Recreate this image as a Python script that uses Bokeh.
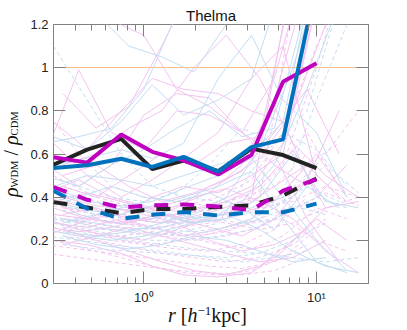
from bokeh.plotting import figure
from bokeh.models import FixedTicker, LogAxis, LinearAxis, Div
from bokeh.layouts import row, column
from bokeh.embed import file_html
from bokeh.resources import INLINE

# ---------------- data ----------------
# radial bins of the median profiles (h^-1 kpc)
r_med = [0.3, 0.47, 0.74, 1.12, 1.7, 2.7, 4.2, 6.4, 10]
black_solid = [0.55, 0.62, 0.67, 0.53, 0.57, 0.52, 0.625, 0.595, 0.535]
magenta_solid = [0.585, 0.56, 0.69, 0.61, 0.57, 0.505, 0.595, 0.935, 1.02]
blue_solid = [0.535, 0.548, 0.578, 0.54, 0.587, 0.518, 0.632, 0.668, 1.39]
black_dashed = [0.377, 0.352, 0.326, 0.345, 0.345, 0.355, 0.362, 0.408, 0.486]
magenta_dashed = [0.447, 0.388, 0.352, 0.362, 0.366, 0.357, 0.34, 0.43, 0.482]
blue_dashed = [0.43, 0.347, 0.30, 0.318, 0.331, 0.315, 0.33, 0.33, 0.37]

# radial bins of the individual haloes
grid_G = [0.3, 0.47, 0.74, 1.12, 1.7, 2.7, 4.2, 6.4, 10, 15]
grid_H = [0.27, 0.42, 0.65, 1.0, 1.55, 2.4, 3.7, 5.7, 8.8, 13.5]
grid_K = [0.34, 0.53, 0.82, 1.27, 1.95, 3.0, 4.7, 7.3, 11.3, 17.5]

pink_solid = [
    ("K", [0.88, 0.72, 0.82, 1.10, 1.40, 1.60, 1.30, 1.50]),
    ("H", [0.60, 0.99, 0.70, 0.62, 0.80, 0.78, 0.70, 0.95, 1.50]),
    ("G", [0.75, 0.62, 0.80, 0.95, 0.90, 0.88, 0.80, 0.75, 0.40, 0.55]),
    ("H", [0.55, 0.45, 0.55, 0.78, 0.88, 0.86, 0.70, 0.60, 0.30, 0.10]),
    ("K", [0.45, 0.40, 0.50, 0.60, 0.55, 0.65, 0.68, 1.40]),
    ("G", [0.35, 0.30, 0.32, 0.40, 0.45, 0.42, 0.50, 0.60, 1.30]),
    ("H", [0.30, 0.25, 0.22, 0.20, 0.25, 0.30, 0.35, 0.45, 0.55, 0.40]),
    ("K", [0.25, 0.20, 0.15, 0.10, 0.06, 0.04, 0.08, 0.20, 0.35]),
    ("G", [0.20, 0.18, 0.14, 0.08, 0.04, 0.03, 0.05, 0.15, 0.30, 0.20]),
    ("H", [0.40, 0.32, 0.28, 0.30, 0.35, 0.45, 0.52, 0.70, 0.90, 0.60]),
    ("K", [0.50, 0.55, 0.45, 0.38, 0.42, 0.48, 0.58, 0.80, 1.20, 1.50]),
    ("G", [0.28, 0.26, 0.30, 0.26, 0.22, 0.25, 0.30, 0.42, 0.60, 0.40]),
    ("H", [0.22, 0.28, 0.35, 0.32, 0.28, 0.20, 0.15, 0.18, 0.25]),
    ("K", [0.32, 0.35, 0.30, 0.28, 0.34, 0.38, 0.45, 0.62, 0.35, 0.38]),
    ("G", [0.65, 0.50, 0.40, 0.48, 0.58, 0.70, 0.95, 1.10, 0.50]),
    ("H", [0.42, 0.48, 0.40, 0.36, 0.30, 0.26, 0.22, 0.30, 0.48, 0.80]),
    ("K", [0.18, 0.22, 0.26, 0.22, 0.18, 0.14, 0.10, 0.12, 0.20]),
    ("G", [0.38, 0.42, 0.38, 0.34, 0.30, 0.34, 0.40, 1.20, 1.60]),
    ("H", [1.30, 1.25, 1.22, 1.15, 0.90, 0.82, 0.70, 0.55, 0.45]),
    ("K", [0.55, 0.60, 0.72, 0.80, 1.00, 1.15, 0.95, 0.65, 0.50, 0.40]),
    ("G", [0.32, 0.30, 0.28, 0.30, 0.33, 0.38, 0.45, 0.65, 1.30]),
    ("H", [0.26, 0.24, 0.26, 0.30, 0.36, 0.42, 0.55, 0.85, 1.40]),
    ("K", [0.40, 0.36, 0.34, 0.36, 0.40, 0.44, 0.38, 0.30, 0.15, 0.05]),
]
blue_solid_faint = [
    ("H", [0.65, 0.68, 0.72, 0.90, 1.25]),
    ("G", [0.68, 0.62, 0.75, 0.92, 0.78, 0.85, 0.95, 1.40]),
    ("K", [1.30, 1.25, 1.10, 1.05, 0.98, 1.20, 1.50]),
    ("H", [0.50, 0.45, 0.55, 0.62, 0.72, 0.80, 0.68, 0.72, 1.30]),
    ("G", [0.38, 0.34, 0.32, 0.36, 0.40, 0.45, 0.52, 0.30, 0.10, 0.05]),
    ("K", [0.30, 0.28, 0.25, 0.26, 0.30, 0.32, 0.25, 0.15, 0.08, 0.05]),
    ("H", [0.25, 0.22, 0.20, 0.22, 0.26, 0.30, 0.38, 0.55, 0.90, 1.30]),
    ("G", [0.45, 0.50, 0.48, 0.45, 0.50, 0.55, 0.60, 0.75, 1.50]),
    ("K", [0.22, 0.18, 0.16, 0.18, 0.22, 0.20, 0.15, 0.10, 0.12]),
    ("H", [0.35, 0.40, 0.45, 0.40, 0.38, 0.42, 0.35, 0.25, 0.45, 0.35]),
    ("G", [0.55, 0.58, 0.62, 0.58, 0.65, 0.95, 1.15, 0.85, 0.70, 0.40]),
    ("K", [0.28, 0.32, 0.36, 0.32, 0.28, 0.30, 0.40, 0.60, 0.38, 0.35]),
    ("G", [0.42, 0.38, 0.36, 0.38, 0.44, 0.50, 0.58, 0.40, 0.20, 0.06]),
    ("K", [0.24, 0.22, 0.24, 0.28, 0.32, 0.40, 0.62, 1.00, 1.50]),
]
pink_dashed = [
    ("G", [0.30, 0.28, 0.26, 0.25, 0.28, 0.30, 0.34, 0.40, 0.50, 0.38]),
    ("H", [0.25, 0.22, 0.20, 0.18, 0.16, 0.15, 0.18, 0.25, 0.40]),
    ("K", [0.35, 0.32, 0.28, 0.25, 0.22, 0.24, 0.30, 0.42, 0.60, 0.80]),
    ("G", [0.20, 0.16, 0.12, 0.08, 0.05, 0.04, 0.06, 0.12, 0.25]),
    ("H", [0.40, 0.36, 0.33, 0.30, 0.28, 0.30, 0.36, 0.50, 0.70, 0.45]),
    ("K", [0.45, 0.40, 0.36, 0.34, 0.33, 0.35, 0.40, 1.30]),
    ("G", [0.28, 0.24, 0.20, 0.18, 0.20, 0.24, 0.28, 0.30, 0.20, 0.15]),
    ("H", [0.33, 0.30, 0.28, 0.27, 0.26, 0.28, 0.32, 0.38, 0.55, 0.65]),
    ("K", [0.22, 0.20, 0.17, 0.14, 0.12, 0.10, 0.12, 0.18, 0.30]),
    ("G", [0.50, 0.42, 0.38, 0.35, 0.36, 0.40, 0.48, 0.70, 1.10, 1.40]),
    ("H", [0.18, 0.16, 0.14, 0.12, 0.10, 0.08, 0.07, 0.10, 0.18]),
    ("K", [0.38, 0.34, 0.30, 0.28, 0.30, 0.32, 0.35, 0.38, 0.45, 0.40]),
    ("G", [0.26, 0.22, 0.22, 0.24, 0.22, 0.18, 0.16, 0.22, 0.35, 0.30]),
    ("H", [0.80, 0.60, 0.45, 0.40, 0.38, 0.36, 0.40, 0.45, 0.60]),
    ("K", [0.30, 0.26, 0.24, 0.22, 0.20, 0.22, 0.26, 0.34, 0.42, 0.36]),
    ("G", [0.36, 0.34, 0.32, 0.30, 0.32, 0.36, 0.42, 0.55, 1.00, 1.50]),
    ("H", [0.14, 0.12, 0.10, 0.08, 0.06, 0.05, 0.04, 0.06, 0.12]),
    ("K", [0.42, 0.38, 0.35, 0.32, 0.30, 0.28, 0.25, 0.28, 0.35, 0.40]),
]
blue_dashed_faint = [
    ("G", [1.10, 0.85, 0.60, 0.45, 0.40, 0.38, 0.35, 0.40, 0.55]),
    ("H", [0.32, 0.28, 0.25, 0.24, 0.22, 0.24, 0.28, 0.35, 0.45, 0.38]),
    ("K", [0.26, 0.22, 0.20, 0.18, 0.16, 0.15, 0.14, 0.12, 0.10, 0.12]),
    ("G", [0.40, 0.36, 0.32, 0.30, 0.30, 0.32, 0.35, 0.42, 0.85, 1.20]),
    ("H", [0.22, 0.20, 0.18, 0.16, 0.14, 0.12, 0.10, 0.12, 0.15]),
    ("K", [0.36, 0.32, 0.30, 0.28, 0.28, 0.30, 0.34, 0.40, 0.55, 0.42]),
    ("G", [0.30, 0.26, 0.24, 0.22, 0.24, 0.28, 0.52, 0.70, 0.62, 0.45]),
    ("H", [0.45, 0.40, 0.35, 0.33, 0.32, 0.30, 0.28, 0.30, 0.38]),
    ("K", [0.18, 0.16, 0.15, 0.14, 0.13, 0.12, 0.14, 0.20, 0.28]),
    ("G", [0.28, 0.25, 0.22, 0.20, 0.20, 0.22, 0.25, 0.32, 0.40, 0.35]),
    ("H", [0.50, 0.45, 0.40, 0.38, 0.42, 0.55, 0.72, 0.65, 0.80, 1.30]),
    ("K", [0.34, 0.30, 0.27, 0.25, 0.24, 0.26, 0.30, 0.36, 0.32]),
]

y_ticks = [0, 0.2, 0.4, 0.6, 0.8, 1.0, 1.2]
y_tick_labels = ["0", "0.2", "0.4", "0.6", "0.8", "1", "1.2"]
x_major = [1, 10]
x_major_labels = ["10\u2070", "10\u00b9"]
x_minor = [0.4, 0.5, 0.6, 0.7, 0.8, 0.9, 2, 3, 4, 5, 6, 7, 8, 9, 20]
ref_level = [1.0]
title_text = "Thelma"

# ---------------- figure ----------------
GRIDS = {"G": grid_G, "H": grid_H, "K": grid_K}
PINK = "#F2C3EF"
LBLUE = "#C3DDF1"
MAGENTA = "#BF00BF"
BLUE = "#0072BD"
BLACK = "#222222"
FRAME = "#808080"

p = figure(width=385, height=307, x_axis_type="log", x_range=(0.3, 20),
           y_range=(0, 1.2), output_backend="svg", toolbar_location=None,
           min_border_left=31, min_border_right=39, min_border_top=24,
           min_border_bottom=24, title=title_text, margin=0)
p.title.align = "center"
p.title.text_font = "Liberation Sans"
p.title.text_font_size = "15px"
p.title.text_font_style = "normal"
p.title.text_color = "#111111"
p.title.standoff = 2
p.grid.visible = False
p.outline_line_color = FRAME
p.outline_line_width = 1
p.background_fill_color = "white"
p.border_fill_color = "white"


def lines(spec):
    xs = [GRIDS[g][:len(v)] for g, v in spec]
    ys = [v for g, v in spec]
    return xs, ys


xs, ys = lines(pink_solid)
p.multi_line(xs, ys, line_color=PINK, line_width=1)
xs, ys = lines(pink_dashed)
p.multi_line(xs, ys, line_color=PINK, line_width=1, line_dash="4 3")
xs, ys = lines(blue_solid_faint)
p.multi_line(xs, ys, line_color=LBLUE, line_width=1)
xs, ys = lines(blue_dashed_faint)
p.multi_line(xs, ys, line_color=LBLUE, line_width=1, line_dash="4 3")

p.hspan(y=ref_level, line_color="#F6BF8C", line_width=1)

p.line(r_med, black_dashed, line_color=BLACK, line_width=4, line_dash="14 12")
p.line(r_med, magenta_dashed, line_color=MAGENTA, line_width=4, line_dash="14 12")
p.line(r_med, blue_dashed, line_color=BLUE, line_width=4, line_dash="14 12")
p.line(r_med, black_solid, line_color=BLACK, line_width=4)
p.line(r_med, magenta_solid, line_color=MAGENTA, line_width=4)
p.line(r_med, blue_solid, line_color=BLUE, line_width=4)

# ---------------- axes ----------------


def style(ax, labels=True):
    ax.axis_line_color = None
    ax.major_tick_line_color = FRAME
    ax.minor_tick_line_color = FRAME
    ax.major_tick_out = 0
    ax.minor_tick_out = 0
    ax.major_tick_in = 12
    ax.minor_tick_in = 6
    ax.major_label_text_font = "Liberation Sans"
    if labels:
        ax.major_label_text_font_size = "13px"
        ax.major_label_text_color = "#222222"
    else:
        ax.major_label_text_font_size = "1px"
        ax.major_label_text_color = None
        ax.major_label_standoff = 0


p.xaxis.ticker = FixedTicker(ticks=x_major, minor_ticks=x_minor)
p.xaxis.major_label_overrides = {v: s for v, s in zip(x_major, x_major_labels)}
p.xaxis.major_label_standoff = 6
style(p.xaxis[0])
p.yaxis.ticker = FixedTicker(ticks=y_ticks, minor_ticks=[])
p.yaxis.major_label_overrides = {v: s for v, s in zip(y_ticks, y_tick_labels)}
p.yaxis.major_label_standoff = 5
style(p.yaxis[0])

top = LogAxis(ticker=FixedTicker(ticks=x_major, minor_ticks=x_minor))
style(top, labels=False)
p.add_layout(top, "above")
right = LinearAxis(ticker=FixedTicker(ticks=y_ticks, minor_ticks=[]))
style(right, labels=False)
p.add_layout(right, "right")

# ---------------- axis labels (HTML text) ----------------
SUB = "font-size:10.5px;vertical-align:-4px;line-height:0;font-style:normal"
ylab_html = (
    "<div style=\"writing-mode:vertical-rl;transform:rotate(180deg);"
    "width:22px;height:330px;box-sizing:border-box;padding-top:133px;"
    "font-family:'Liberation Serif';font-size:20px;line-height:22px;"
    "color:#111;white-space:nowrap\">"
    "<i>\u03c1</i><span style=\"" + SUB + "\">WDM</span> / "
    "<i>\u03c1</i><span style=\"" + SUB + "\">CDM</span></div>"
)
SUP = "font-size:13px;vertical-align:7px;line-height:0"
xlab_html = (
    "<div style=\"font-family:'Liberation Serif';font-size:20px;"
    "line-height:16px;padding-left:146px;white-space:nowrap;color:#111\">"
    "<i>r</i>&nbsp;[<i>h</i><span style=\"" + SUP + "\">\u22121</span>kpc]</div>"
)
ylab = Div(text=ylab_html, width=22, height=330, margin=0)
xlab = Div(text=xlab_html, width=385, height=23, margin=0)

layout = row(ylab, column(p, xlab, spacing=0, margin=0), spacing=0, margin=0)

open("out.html", "w").write(file_html(layout, INLINE))
